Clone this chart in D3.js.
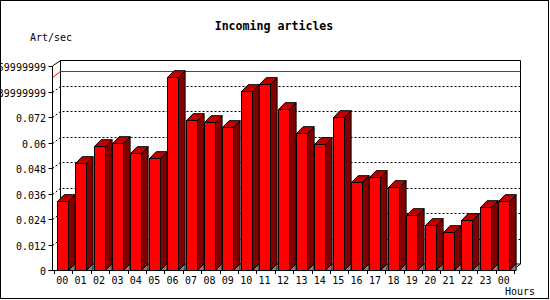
<!DOCTYPE html>
<html><head><meta charset="utf-8">
<script src="https://cdn.jsdelivr.net/npm/d3@7"></script>
<style>
html,body{margin:0;padding:0;background:#fff;}
svg{display:block;}
text{font-family:"DejaVu Sans Mono",monospace;}
</style></head>
<body>
<svg id="chart" width="550" height="300"></svg>
<script>
const hours = ["00","01","02","03","04","05","06","07","08","09","10","11","12","13","14","15","16","17","18","19","20","21","22","23","00"];
const values = [0.0327,0.0502,0.0584,0.0599,0.0552,0.0527,0.0908,0.0706,0.0696,0.0671,0.0842,0.0875,0.0758,0.0645,0.0591,0.0720,0.0413,0.0436,0.0391,0.0259,0.0212,0.0177,0.0234,0.0296,0.0325];
const yTicks = [0,0.012,0.024,0.036,0.048,0.06,0.072,0.084,0.096];
const yTickLabels = ["0","0.012","0.024","0.036","0.048","0.06","0.072","0.0839999999","0.0959999999"];
const title = "Incoming articles";
const yTitle = "Art/sec";
const xTitle = "Hours";

const svg = d3.select("#chart");
const wdx = 8, wdy = 6;      // wall depth
const bdx = 6.6, bdy = 6.8;  // bar depth

const y = d3.scaleLinear().domain([0,0.096]).range([270,66]);
const x = d3.scaleBand().domain(d3.range(hours.length)).range([54,514]).padding(0);

// border
svg.append("rect").attr("x",0.5).attr("y",0.5).attr("width",548).attr("height",298)
  .attr("fill","#fff").attr("stroke","#000");

// title
svg.append("text").attr("x",274).attr("y",30).attr("text-anchor","middle")
  .attr("font-size","11.6px").attr("font-weight","bold").text(title);
svg.append("text").attr("x",30).attr("y",41).attr("font-size","10px").text(yTitle);
svg.append("text").attr("x",505).attr("y",295).attr("font-size","10px").text(xTitle);

const x0 = 52.5, x1 = 512.5;
const g = svg.append("g");
// back wall frame
g.append("path").attr("fill","none").attr("stroke","#000")
  .attr("d",`M${x0+wdx},${y(0)-wdy}V${y(0.096)-wdy+0.5}H${x1+wdx}V${y(0)-wdy}`);
g.append("line").attr("x1",x0).attr("y1",y(0.096)).attr("x2",x0+wdx).attr("y2",y(0.096)-wdy+0.5).attr("stroke","#000");
g.append("line").attr("x1",x1+wdx).attr("y1",y(0)-wdy).attr("x2",x1).attr("y2",y(0)).attr("stroke","#000");
g.append("line").attr("x1",x0+wdx).attr("y1",y(0)-wdy).attr("x2",x1+wdx).attr("y2",y(0)-wdy).attr("stroke","#000");

// gridlines
const grid = yTicks.filter(v => v>0 && v<0.096);
grid.forEach(v => {
  const yy = Math.round(y(v))+0.5;
  g.append("path").attr("fill","none").attr("stroke","#000").attr("stroke-dasharray","2,2")
    .attr("d",`M${x0},${yy}L${x0+wdx},${yy-wdy}H${x1+wdx}`);
});

// max line
const vmax = d3.max(values);
const ym = Math.round(y(vmax))+0.5;
g.append("path").attr("fill","none").attr("stroke","#f00")
  .attr("d",`M${x0},${ym}L${x0+wdx},${ym-wdy}H${x1+wdx}`);

// bars
const bars = svg.append("g").selectAll("g").data(values).join("g");
bars.each(function(v,i){
  const sel = d3.select(this);
  const l = Math.round(x(i)+2.7)+0.5, r = l+11, b = 270.5, t = Math.round(y(v))+0.5;
  sel.append("path").attr("fill","#808080").attr("stroke","#000").attr("stroke-linejoin","round")
    .attr("d",`M${r},${b}L${r+bdx},${b-bdy}V${b}Z`);
  sel.append("path").attr("fill","#800000").attr("stroke","#000")
    .attr("d",`M${r},${b}L${r+bdx},${b-bdy}V${t-bdy}L${r},${t}Z`);
  sel.append("path").attr("fill","#c00000").attr("stroke","#000")
    .attr("d",`M${l},${t}L${l+bdx},${t-bdy}H${r+bdx}L${r},${t}Z`);
  sel.append("rect").attr("x",l).attr("y",t).attr("width",r-l).attr("height",b-t)
    .attr("fill","#f00").attr("stroke","#000");
});

// front axes
svg.append("line").attr("x1",x0).attr("y1",y(0.096)).attr("x2",x0).attr("y2",270.5).attr("stroke","#000");
svg.append("line").attr("x1",x0-4).attr("y1",270.5).attr("x2",x1).attr("y2",270.5).attr("stroke","#000");

// y ticks + labels
yTicks.forEach((v,i) => {
  const yy = Math.round(y(v))+0.5;
  svg.append("line").attr("x1",x0-4).attr("x2",x0).attr("y1",yy).attr("y2",yy).attr("stroke","#000");
  svg.append("text").attr("x",46).attr("y",yy+4).attr("text-anchor","end")
    .attr("font-size","10px").text(yTickLabels[i]);
});

// x ticks + labels
d3.range(hours.length+1).forEach(i => {
  const xx = Math.round(54 + i*x.bandwidth())+0.5;
  svg.append("line").attr("x1",xx).attr("x2",xx).attr("y1",270.5).attr("y2",274).attr("stroke","#000");
});
hours.forEach((h,i) => {
  svg.append("text").attr("x",x(i)+8.2).attr("y",284).attr("text-anchor","middle")
    .attr("font-size","10px").text(h);
});
</script>
</body></html>
